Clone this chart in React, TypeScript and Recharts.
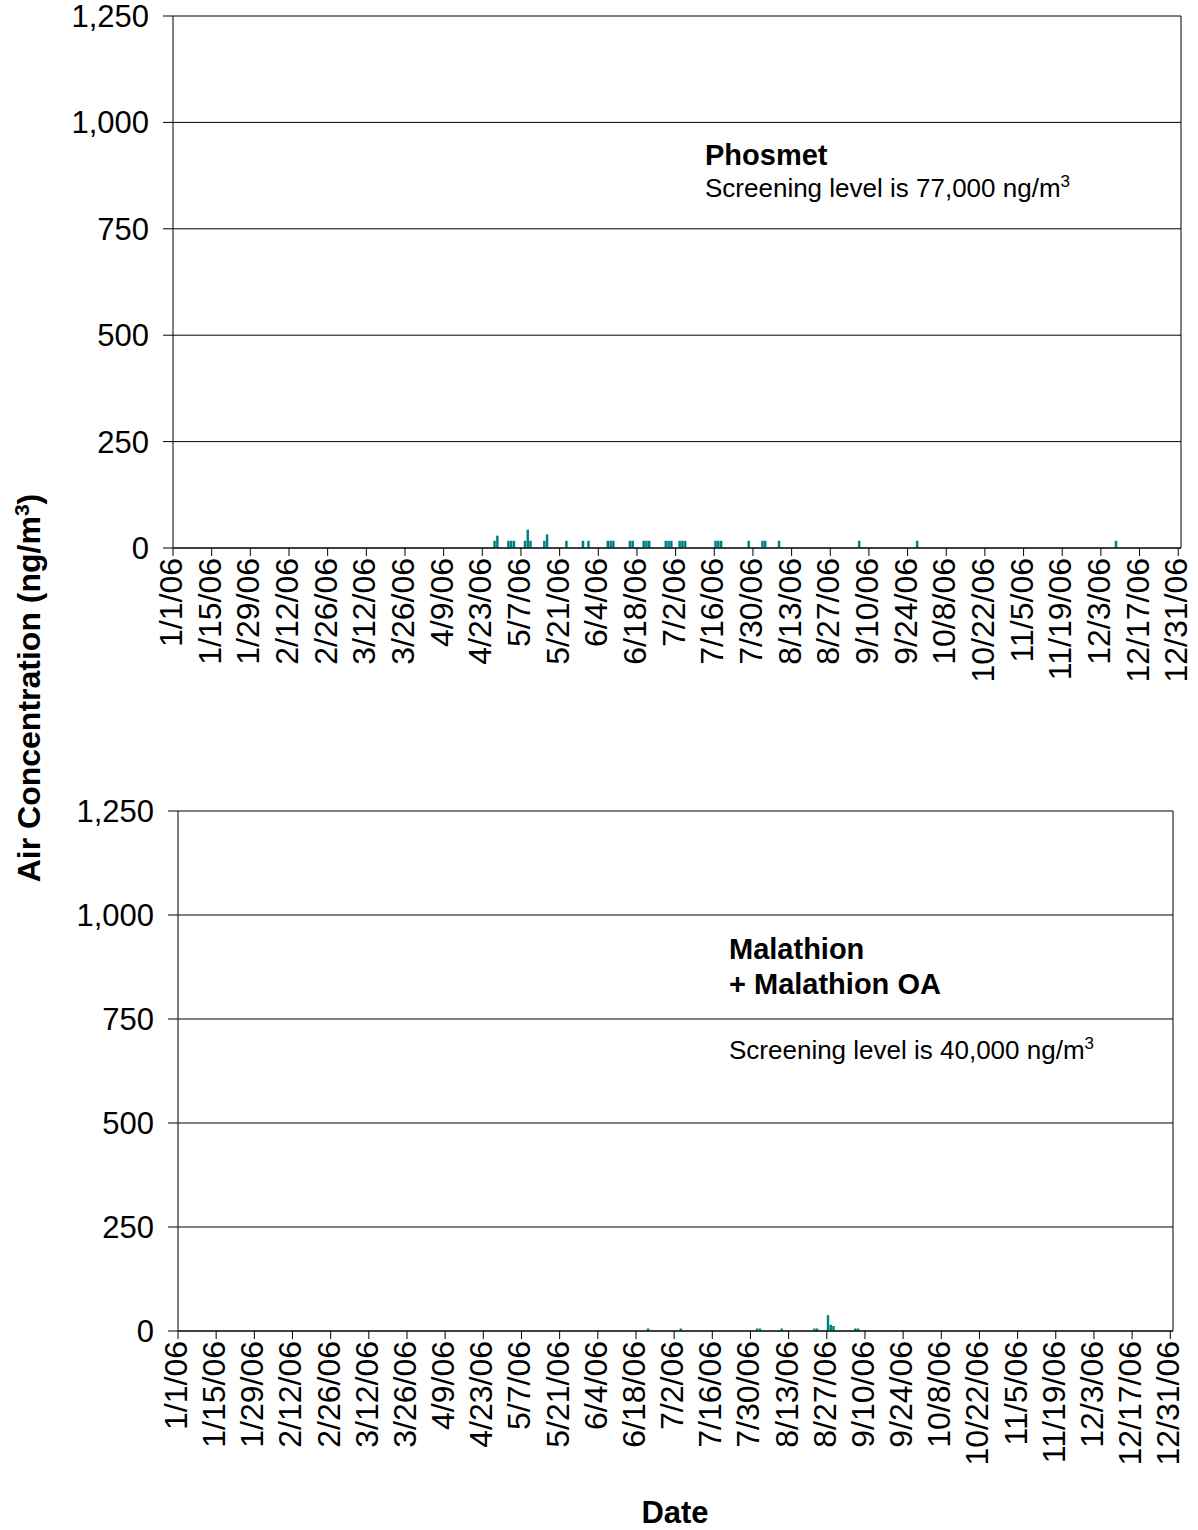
import { BarChart, Bar, XAxis, YAxis, CartesianGrid, ReferenceLine } from 'recharts';

const FONT = '"Liberation Sans", Arial, sans-serif';
const BAR_COLOR = '#008080';
const Y_TICK_FONT = 31;
const X_TICK_FONT = 32;

// x axis labels, one every two weeks
const tickLabels = [
  '1/1/06', '1/15/06', '1/29/06', '2/12/06', '2/26/06', '3/12/06', '3/26/06',
  '4/9/06', '4/23/06', '5/7/06', '5/21/06', '6/4/06', '6/18/06', '7/2/06',
  '7/16/06', '7/30/06', '8/13/06', '8/27/06', '9/10/06', '9/24/06', '10/8/06',
  '10/22/06', '11/5/06', '11/19/06', '12/3/06', '12/17/06', '12/31/06',
];
const yTicks = [0, 250, 500, 750, 1000, 1250];

// Phosmet samples (ng/m3)
const phosmetDates = [
  '4/27/06', '4/28/06', '5/2/06', '5/3/06', '5/4/06', '5/8/06', '5/9/06', '5/10/06',
  '5/15/06', '5/16/06', '5/23/06', '5/29/06', '5/31/06', '6/7/06', '6/8/06', '6/9/06',
  '6/15/06', '6/16/06', '6/20/06', '6/21/06', '6/22/06', '6/28/06', '6/29/06', '6/30/06',
  '7/3/06', '7/4/06', '7/5/06', '7/16/06', '7/17/06', '7/18/06', '7/28/06', '8/2/06',
  '8/3/06', '8/8/06', '9/6/06', '9/27/06', '12/8/06',
];
const phosmetValues = [
  17, 29, 17, 17, 17, 17, 43, 17,
  17, 32, 17, 17, 17, 17, 17, 17,
  17, 17, 17, 17, 17, 17, 17, 17,
  17, 17, 17, 17, 17, 17, 17, 17,
  17, 17, 17, 17, 17,
];

// Malathion + malathion OA samples (ng/m3)
const malathionDates = [
  '6/22/06', '7/4/06', '8/1/06', '8/2/06', '8/10/06', '8/22/06', '8/23/06',
  '8/27/06', '8/28/06', '8/29/06', '9/6/06', '9/7/06',
];
const malathionValues = [6, 6, 6, 6, 6, 6, 6, 38, 15, 12, 6, 6];

const monthStart = [0, 31, 59, 90, 120, 151, 181, 212, 243, 273, 304, 334];

function dayOfYear(label: string) {
  const [m, d] = label.split('/').map(Number);
  return monthStart[m - 1] + d - 1;
}

const tickDays = tickLabels.map(dayOfYear);

// each sample fills its own day, so the bar sits in the middle of that day
function toRows(dates: string[], values: number[]) {
  return dates.map((date, i) => ({ date, day: dayOfYear(date) + 0.5, value: values[i] }));
}

const phosmetRows = toRows(phosmetDates, phosmetValues);
const malathionRows = toRows(malathionDates, malathionValues);

function DateTick(props: any) {
  const { x, y, payload } = props;
  const label = tickLabels[tickDays.indexOf(payload.value)];
  return (
    <text
      x={x}
      y={y}
      dy={9}
      transform={`rotate(-90 ${x} ${y})`}
      textAnchor="end"
      fontSize={X_TICK_FONT}
      fontFamily={FONT}
      fill="#000"
    >
      {label}
    </text>
  );
}

interface PanelProps {
  rows: { date: string; day: number; value: number }[];
  top: number;
  marginTop: number;
  marginRight: number;
  yWidth: number;
  xHeight: number;
}

function Panel({ rows, top, marginTop, marginRight, yWidth, xHeight }: PanelProps) {
  return (
    <div style={{ position: 'absolute', left: 0, top }}>
      <BarChart
        width={1198}
        height={700}
        data={rows}
        margin={{ top: marginTop, right: marginRight, left: 0, bottom: 0 }}
      >
        <CartesianGrid vertical={false} stroke="#000" />
        <XAxis
          type="number"
          dataKey="day"
          domain={[0, 365]}
          ticks={tickDays}
          interval={0}
          tick={<DateTick />}
          tickSize={8}
          height={xHeight}
          stroke="#000"
        />
        <YAxis
          type="number"
          domain={[0, 1250]}
          ticks={yTicks}
          interval={0}
          width={yWidth}
          tickSize={10}
          tickMargin={14}
          stroke="#000"
          tick={{ fontSize: Y_TICK_FONT, fontFamily: FONT, fill: '#000' }}
          tickFormatter={(v: number) => v.toLocaleString('en-US')}
        />
        <ReferenceLine x={365} stroke="#000" />
        <Bar dataKey="value" fill={BAR_COLOR} barSize={3} isAnimationActive={false} />
      </BarChart>
    </div>
  );
}

export default function App() {
  return (
    <div style={{ position: 'absolute', left: 0, top: 0, width: 1198, height: 1530, background: '#fff' }}>
      <Panel rows={phosmetRows} top={0} marginTop={16} marginRight={17} yWidth={173} xHeight={152} />
      <Panel rows={malathionRows} top={780} marginTop={31} marginRight={25} yWidth={178} xHeight={149} />
      <svg
        width={1198}
        height={1530}
        style={{ position: 'absolute', left: 0, top: 0, pointerEvents: 'none' }}
        fontFamily={FONT}
        fill="#000"
      >
        <text x={705} y={165} fontSize={29} fontWeight="bold">Phosmet</text>
        <text x={705} y={197} fontSize={26}>
          Screening level is 77,000 ng/m<tspan dy={-10} fontSize={17}>3</tspan>
        </text>

        <text x={729} y={959} fontSize={29} fontWeight="bold">Malathion</text>
        <text x={729} y={994} fontSize={29} fontWeight="bold">+ Malathion OA</text>
        <text x={729} y={1059} fontSize={26}>
          Screening level is 40,000 ng/m<tspan dy={-10} fontSize={17}>3</tspan>
        </text>

        <text
          x={40}
          y={688}
          transform="rotate(-90 40 688)"
          textAnchor="middle"
          fontSize={32}
          fontWeight="bold"
        >
          Air Concentration (ng/m<tspan dy={-11} fontSize={21}>3</tspan>
          <tspan dy={11}>)</tspan>
        </text>
        <text x={675} y={1523} textAnchor="middle" fontSize={31} fontWeight="bold">Date</text>
      </svg>
    </div>
  );
}
